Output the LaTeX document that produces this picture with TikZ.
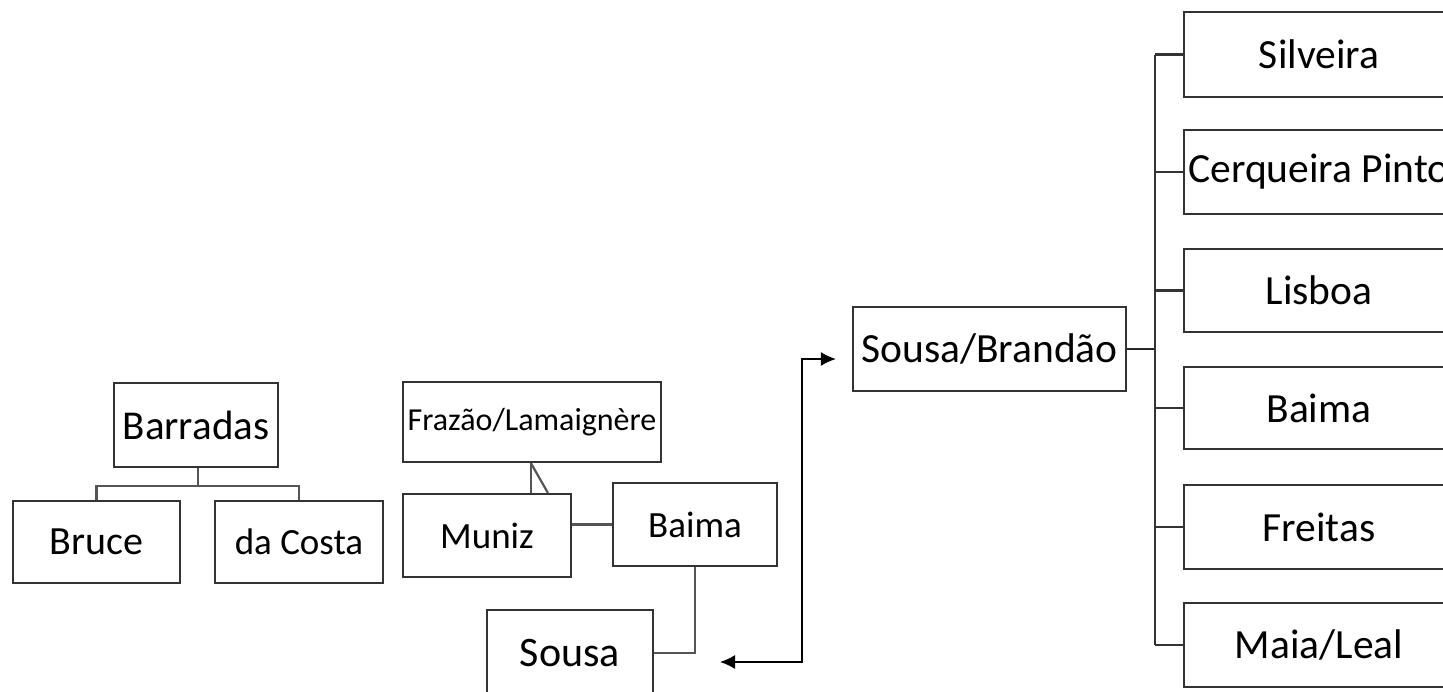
\documentclass[tikz,border=0pt]{standalone}
\usepackage{fontspec}
\setmainfont{Carlito}
\usetikzlibrary{calc,arrows.meta}
\definecolor{boxline}{HTML}{333333}
\definecolor{conline}{HTML}{555555}
\tikzset{
  box/.style={draw=boxline, line width=2.2pt, inner sep=0pt, align=center, font=\fontsize{41}{46}\selectfont},
  fsmall/.style={font=\fontsize{32}{36}\selectfont},
  fmid/.style={font=\fontsize{37}{42}\selectfont},
  rbox/.style={box, minimum width=270pt, font=\fontsize{41.5}{46}\selectfont},
  con/.style={draw=conline, line width=2.2pt},
  arr/.style={draw=black, line width=1.5pt, {Latex[length=15pt,width=14pt]}-{Latex[length=15pt,width=14pt]}}
}
\begin{document}
\begin{tikzpicture}[x=1pt,y=-1pt]
\useasboundingbox (0,0) rectangle (1443,691);
\clip (0,0) rectangle (1443,691);
\fill[white] (0,0) rectangle (1443,691);
% left group
\node[box, minimum width=164pt, minimum height=84pt] (barradas) at (196,425) {Barradas};
\node[box, minimum width=167pt, minimum height=82pt, font=\fontsize{40}{45}\selectfont] (bruce) at (96.5,542) {Bruce};
\node[box, minimum width=168pt, minimum height=82pt, fmid] (dacosta) at (299,542) {da Costa};
\coordinate (bj) at ($(barradas.south)+(2,18)$);
\draw[con] ($(barradas.south)+(2,0)$) -- (bj);
\draw[con] (bj) -| (bruce.north);
\draw[con] (bj) -| (dacosta.north);
% middle group
\node[box, minimum width=258pt, minimum height=80pt, fsmall] (frazao) at (532,422) {Frazão/Lamaignère};
\node[box, minimum width=168pt, minimum height=83pt, fmid] (muniz) at (487,535.5) {Muniz};
\node[box, minimum width=164pt, minimum height=83pt, fmid] (baima) at (695,524.5) {Baima};
\node[box, minimum width=166pt, minimum height=86pt, font=\fontsize{42}{47}\selectfont] (sousa) at (570,653) {Sousa};
\coordinate (fm) at ($(frazao.south west)+(129,0)$);
\draw[con] (fm) -- (fm |- muniz.north);
\draw[con] (fm) -- ($(muniz.north west)+(146,0)$);
\draw[con] (muniz.east |- baima.west) -- (baima.west);
\draw[con] (baima.south) |- (sousa.east);
% Sousa/Brandao
\node[box, minimum width=273pt, minimum height=84pt, font=\fontsize{41.5}{46}\selectfont] (sb) at (989.5,349) {Sousa/Brandão};
\coordinate (al) at (720,662);
\coordinate (ar) at ($(sb.west)+(-16,10)$);
\draw[arr] (al) -- (802,662) |- (ar);
% right group
\node[rbox, minimum height=85pt] (silveira) at (1319,54.5) {Silveira};
\node[rbox, minimum height=84pt] (cerqueira) at (1319,172) {Cerqueira Pinto};
\node[rbox, minimum height=83pt] (lisboa) at (1319,290.5) {Lisboa};
\node[rbox, minimum height=82pt] (baima2) at (1319,408) {Baima};
\node[rbox, minimum height=84pt] (freitas) at (1319,527) {Freitas};
\node[rbox, minimum height=84pt] (maia) at (1319,645) {Maia/Leal};
\coordinate (tr) at (1155,349);
\draw[con, draw=black!85] (sb.east) -- (tr);
\draw[con, draw=black!80] (silveira.west -| tr) -- (maia.west -| tr);
\foreach \n in {silveira,cerqueira,lisboa,baima2,freitas,maia}
  \draw[con, draw=black!80] (\n.west -| tr) -- (\n.west);
\end{tikzpicture}
\end{document}
